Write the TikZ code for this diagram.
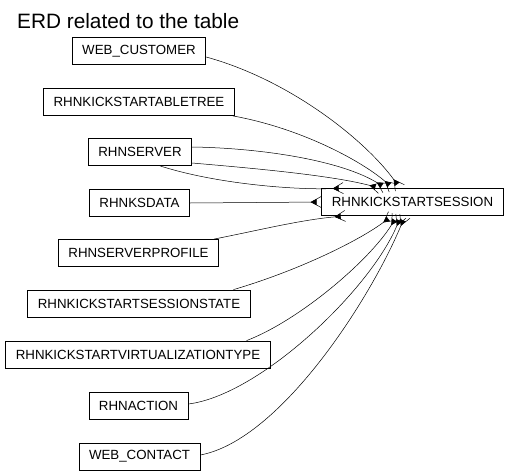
\documentclass[tikz,border=0pt]{standalone}
\usepackage{fontspec}
\setmainfont{Liberation Sans}
\usetikzlibrary{arrows.meta}

\begin{document}
\begin{tikzpicture}[x=1pt,y=-1pt,
  tbl/.style={draw, line width=0.8pt, font=\fontsize{13.3}{15}\selectfont,
              inner xsep=10pt, inner ysep=0pt, minimum height=27pt},
  rel/.style={line width=0.5pt,
              -{Triangle[reversed,length=6pt,width=6pt,sep=-6pt]Straight Barb[reversed,length=10pt,width=11pt]}}]

\useasboundingbox (0,0) rectangle (509,474);

%---------------------------------------
% Title
%---------------------------------------
\node[anchor=base west, inner sep=0pt, font=\fontsize{20.8}{24}\selectfont]
  (title) at (17,28) {ERD related to the table};

%---------------------------------------
% Tables
%---------------------------------------
\node[tbl] (session) at (412.5,202) {RHNKICKSTARTSESSION};

\node[tbl] (webcustomer)  at (139,51)    {WEB\_CUSTOMER};
\node[tbl] (tabletree)    at (139,102)   {RHNKICKSTARTABLETREE};
\node[tbl] (server)       at (140,152)   {RHNSERVER};
\node[tbl] (ksdata)       at (139.5,203) {RHNKSDATA};
\node[tbl] (profile)      at (138.5,253) {RHNSERVERPROFILE};
\node[tbl] (sessionstate) at (139,303.5) {RHNKICKSTARTSESSIONSTATE};
\node[tbl] (virttype)     at (138,354.5) {RHNKICKSTARTVIRTUALIZATIONTYPE};
\node[tbl] (action)       at (138.5,405.5) {RHNACTION};
\node[tbl] (webcontact)   at (139.5,456.5) {WEB\_CONTACT};

%---------------------------------------
% Relations (all into the session table)
%---------------------------------------
% from above
\draw[rel] ([yshift=-6pt]webcustomer.east) .. controls (290,80) and (365,140)
      .. ([xshift=-12.5pt]session.north);
\draw[rel] ([xshift=-2pt]tabletree.south east) .. controls (300,128) and (360,160)
      .. ([xshift=-19.5pt]session.north);
\draw[rel] ([yshift=5pt]server.east) .. controls (260,148) and (340,160)
      .. ([xshift=-26.5pt]session.north);
\draw[rel] ([yshift=-11pt]server.east) .. controls (250,168) and (330,175)
      .. ([xshift=-32.5pt]session.north);
\draw[rel] ([xshift=20pt]server.south) .. controls (220,185) and (300,190)
      .. ([xshift=22pt]session.north west);

% straight across
\draw[rel] (ksdata.east) -- (session.west);

% from below
\draw[rel] ([xshift=-5pt]profile.north east) .. controls (260,230) and (300,220)
      .. ([xshift=24pt]session.south west);
\draw[rel] ([xshift=-17pt]sessionstate.north east) .. controls (300,270) and (360,240)
      .. ([xshift=-20.5pt]session.south);
\draw[rel] ([xshift=-24pt]virttype.north east) .. controls (300,320) and (370,260)
      .. ([xshift=-15.5pt]session.south);
\draw[rel] ([yshift=1.5pt]action.east) .. controls (260,395) and (370,290)
      .. ([xshift=-11.5pt]session.south);
\draw[rel] ([yshift=1.5pt]webcontact.east) .. controls (280,440) and (370,300)
      .. ([xshift=-7.5pt]session.south);

\end{tikzpicture}
\end{document}
